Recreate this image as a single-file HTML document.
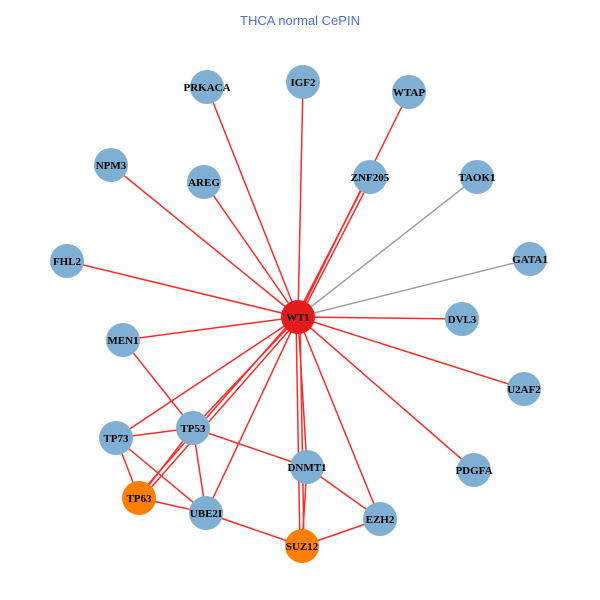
<!DOCTYPE html>
<html><head><style>body{margin:0;background:#fff}svg{display:block}</style></head><body>
<svg width="600" height="600" xmlns="http://www.w3.org/2000/svg">
<rect width="600" height="600" fill="#fff"/>
<text x="300" y="25" text-anchor="middle" font-family="Liberation Sans, sans-serif" font-size="13" fill="#4a6fe3">THCA normal CePIN</text>
<g stroke="#ff2a2a" stroke-width="1.5">
<line x1="298" y1="317" x2="207" y2="87"/>
<line x1="298" y1="317" x2="303" y2="82"/>
<line x1="298" y1="317" x2="409" y2="92"/>
<line x1="296" y1="317" x2="368" y2="177"/>
<line x1="300" y1="317" x2="372" y2="177"/>
<line x1="298" y1="317" x2="111" y2="165"/>
<line x1="298" y1="317" x2="204" y2="182"/>
<line x1="298" y1="317" x2="67" y2="261"/>
<line x1="298" y1="317" x2="462" y2="319"/>
<line x1="298" y1="317" x2="123" y2="340"/>
<line x1="298" y1="317" x2="524" y2="389"/>
<line x1="298" y1="317" x2="193" y2="428"/>
<line x1="298" y1="317" x2="116" y2="438"/>
<line x1="296" y1="316" x2="137" y2="497"/>
<line x1="300" y1="318" x2="141" y2="499"/>
<line x1="298" y1="317" x2="206" y2="513"/>
<line x1="298" y1="317" x2="307" y2="467"/>
<line x1="296" y1="317" x2="300" y2="546"/>
<line x1="300" y1="317" x2="304" y2="546"/>
<line x1="298" y1="317" x2="380" y2="519"/>
<line x1="298" y1="317" x2="474" y2="470"/>
<line x1="123" y1="340" x2="193" y2="428"/>
<line x1="116" y1="438" x2="193" y2="428"/>
<line x1="116" y1="438" x2="139" y2="498"/>
<line x1="116" y1="438" x2="206" y2="513"/>
<line x1="193" y1="428" x2="139" y2="498"/>
<line x1="193" y1="428" x2="206" y2="513"/>
<line x1="193" y1="428" x2="307" y2="467"/>
<line x1="139" y1="498" x2="206" y2="513"/>
<line x1="206" y1="513" x2="302" y2="546"/>
<line x1="307" y1="467" x2="380" y2="519"/>
<line x1="307" y1="467" x2="302" y2="546"/>
<line x1="302" y1="546" x2="380" y2="519"/>
</g>
<g stroke="#a0a0a0" stroke-width="1.5">
<line x1="298" y1="317" x2="477" y2="177"/>
<line x1="298" y1="317" x2="530" y2="259"/>
</g>
<g fill="#7fafd2">
<circle cx="207" cy="87" r="17"/><circle cx="303" cy="82" r="17"/><circle cx="409" cy="92" r="17"/>
<circle cx="111" cy="165" r="17"/><circle cx="204" cy="182" r="17"/><circle cx="370" cy="177" r="17"/>
<circle cx="477" cy="177" r="17"/><circle cx="67" cy="261" r="17"/><circle cx="530" cy="259" r="17"/>
<circle cx="462" cy="319" r="17"/><circle cx="123" cy="340" r="17"/><circle cx="524" cy="389" r="17"/>
<circle cx="193" cy="428" r="17"/><circle cx="116" cy="438" r="17"/><circle cx="307" cy="467" r="17"/>
<circle cx="474" cy="470" r="17"/><circle cx="206" cy="513" r="17"/><circle cx="380" cy="519" r="17"/>
</g>
<circle cx="298" cy="317" r="17" fill="#e41a1c"/>
<circle cx="139" cy="498" r="17" fill="#ff7f00"/>
<circle cx="302" cy="546" r="17" fill="#ff7f00"/>
<g font-family="Liberation Serif, serif" font-weight="bold" font-size="11" text-anchor="middle" fill="#000">
<text x="207" y="91">PRKACA</text><text x="303" y="86">IGF2</text><text x="409" y="96">WTAP</text>
<text x="111" y="169">NPM3</text><text x="204" y="186">AREG</text><text x="370" y="181">ZNF205</text>
<text x="477" y="181">TAOK1</text><text x="67" y="265">FHL2</text><text x="530" y="263">GATA1</text>
<text x="462" y="323">DVL3</text><text x="123" y="344">MEN1</text><text x="524" y="393">U2AF2</text>
<text x="193" y="432">TP53</text><text x="116" y="442">TP73</text><text x="307" y="471">DNMT1</text>
<text x="474" y="474">PDGFA</text><text x="206" y="517">UBE2I</text><text x="380" y="523">EZH2</text>
<text x="298" y="321">WT1</text><text x="139" y="502">TP63</text><text x="302" y="550">SUZ12</text>
</g>
</svg>
</body></html>
